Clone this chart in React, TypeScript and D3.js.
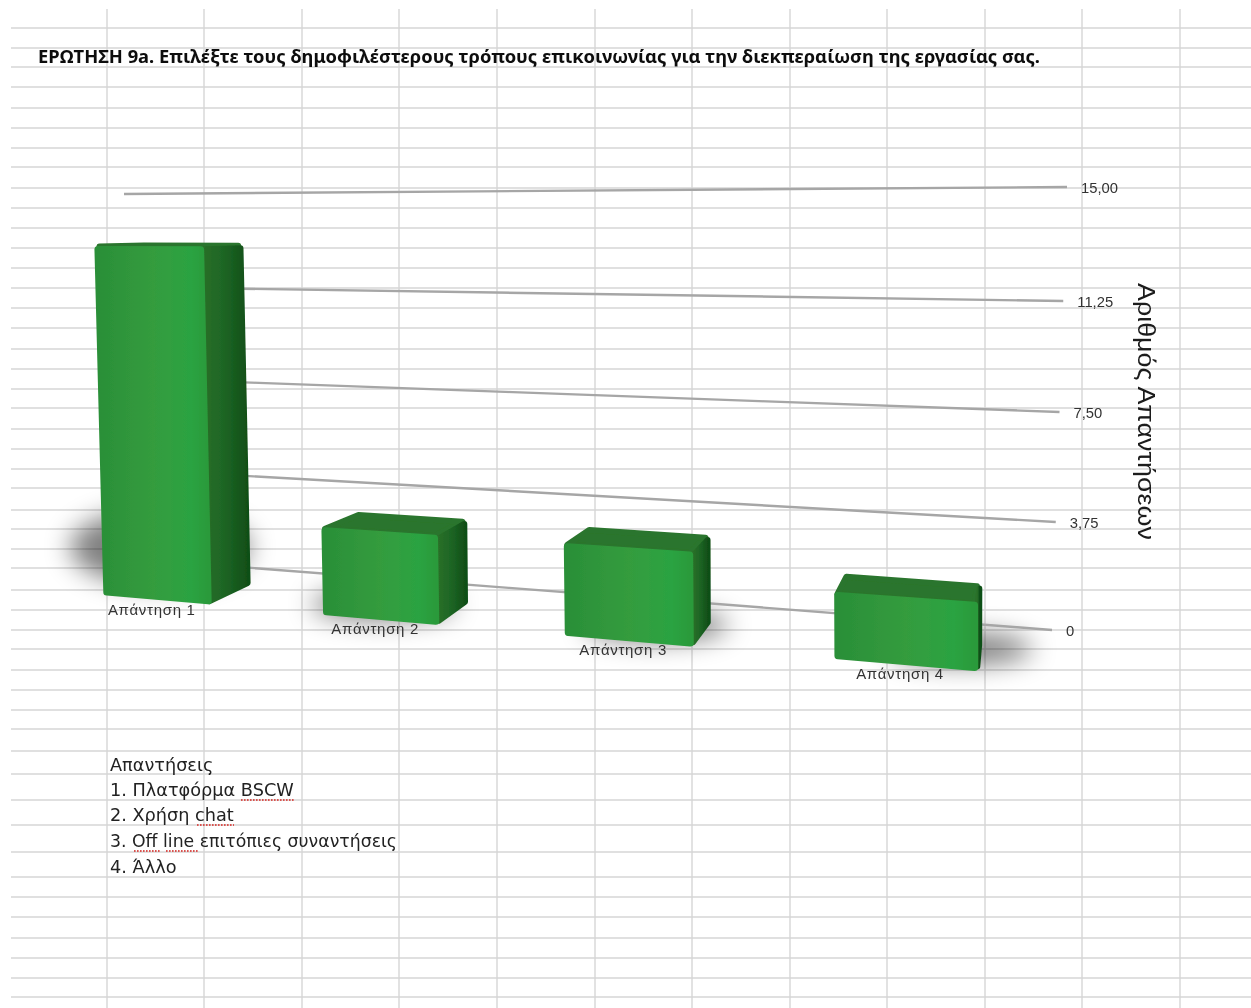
import React from "react";
import * as d3 from "d3";

const titleText = "ΕΡΩΤΗΣΗ 9a. Επιλέξτε τους δημοφιλέστερους τρόπους επικοινωνίας για την διεκπεραίωση της εργασίας σας.";
const categories = ["Απάντηση 1", "Απάντηση 2", "Απάντηση 3", "Απάντηση 4"];
const values = [13, 3, 3, 2];
const axisTicks = [0, 3.75, 7.5, 11.25, 15];
const axisTickLabels = ["0", "3,75", "7,50", "11,25", "15,00"];
const axisTitle = "Αριθμός Απαντήσεων";
const legendLines = ["Απαντήσεις", "1. Πλατφόρμα BSCW", "2. Χρήση chat", "3. Off line επιτόπιες συναντήσεις", "4. Άλλο"];
const legendRows = [765, 790, 815, 841, 867];
const sheetColumns = [107, 204, 302, 399, 497, 595, 692, 790, 887, 985, 1082, 1180];
const sheetRows = [28, 48, 67, 87, 108, 128, 148, 167, 188, 208, 228, 248, 268, 288, 308, 328, 349, 369, 389, 408, 429, 449, 469, 488, 510, 529, 549, 568, 590, 610, 630, 649, 670, 690, 710, 729, 751, 774, 800, 825, 852, 877, 897, 917, 938, 958, 978, 997];
// misspelling marks: [legend row, word]
const spellMarks: [number, string][] = [[1, "BSCW"], [2, "chat"], [3, "Off"], [3, "line"]];

const W = 1251, H = 1008;

// Wall of the chart: value axis at the two ends of the perspective lines
const wallLeftY = d3.scaleLinear().domain(axisTicks).range([558, 469, 378, 287, 194]);
const wallRightY = d3.scaleLinear().domain(axisTicks).range([630, 522, 412, 301, 187]);
const wallRightX = d3.scaleLinear().domain([0, 15]).range([1052, 1067]);
const wallLeftX = 124;

// Perspective of the bars: category slot u, value v, depth z (0 front, 1 back)
const slot = d3.scalePoint<string>().domain(categories).range([0, 3]);
const barSpan = 0.485;
const heightScale = d3.scaleLinear().domain([0, 1]).range([0, 26.8]);
const project = (u: number, v: number, z = 0): [number, number] => {
  const w = 1 - 0.0489 * u;
  const sx = (106 + 202.2 * u) / w - 0.69 * v * (1 - u / 3.2);
  const sy = (595 - 11.5 * u - heightScale(v)) / w;
  const s = 0.048 * z;
  return [sx + s * (1020 - sx), sy + s * (225 - sy)];
};
const poly = d3.line();
const inset = (pts: [number, number][], d: number): [number, number][] => {
  const cx = d3.mean(pts, (p) => p[0])!, cy = d3.mean(pts, (p) => p[1])!;
  return pts.map(([x, y]) => {
    const dx = cx - x, dy = cy - y, n = Math.hypot(dx, dy);
    return [x + (dx / n) * d, y + (dy / n) * d] as [number, number];
  });
};
const face = (pts: [number, number][], d: number) => poly(inset(pts, d))! + "Z";

const gridColor = "#d6d6d6";

export default function App() {
  return (
    <svg width={W} height={H} viewBox={`0 0 ${W} ${H}`} style={{ position: "absolute", left: 0, top: 0, background: "#fff" }}>
      <defs>
        <filter id="soft" x="-5%" y="-5%" width="110%" height="110%"><feGaussianBlur stdDeviation="0.4" /></filter>
        <filter id="shadow" x="-60%" y="-100%" width="220%" height="300%"><feGaussianBlur stdDeviation="13" /></filter>
        <linearGradient id="front" x1="0" x2="1" y1="0" y2="0">
          <stop offset="0" stopColor="#2a8f38" />
          <stop offset="0.5" stopColor="#349c3e" />
          <stop offset="0.85" stopColor="#2ba342" />
          <stop offset="1" stopColor="#2a9a3a" />
        </linearGradient>
        <linearGradient id="side" x1="0" x2="1" y1="0" y2="0">
          <stop offset="0" stopColor="#2a7029" />
          <stop offset="0.5" stopColor="#1d6524" />
          <stop offset="1" stopColor="#114f18" />
        </linearGradient>
      </defs>

      <g stroke={gridColor} strokeWidth={1.4} filter="url(#soft)">
        {sheetRows.map((y) => <line key={y} x1={11} x2={W} y1={y} y2={y} />)}
        {sheetColumns.map((x) => <line key={x} x1={x} x2={x} y1={9} y2={H} />)}
      </g>

      <g fill="#000" opacity={0.5} filter="url(#shadow)">
        {categories.map((c, i) => {
          const u = slot(c)!;
          const [mx, my] = project(u + barSpan / 2, 0);
          const tall = values[i] > 5;
          const lean = tall ? 3 : (mx - 350) * 0.1;
          return <ellipse key={c} cx={mx + lean} cy={my - (tall ? 52 : 14)} rx={tall ? 90 : 72} ry={tall ? 38 : 16} />;
        })}
      </g>

      <g stroke="#a6a6a6" strokeWidth={2.4} fill="none" filter="url(#soft)">
        {axisTicks.map((t) => (
          <line key={t} x1={wallLeftX} y1={wallLeftY(t)} x2={wallRightX(t)} y2={wallRightY(t)} />
        ))}
      </g>

      <g filter="url(#soft)" strokeLinejoin="round">
        {categories.map((c, i) => {
          const u0 = slot(c)!, u1 = u0 + barSpan, v = values[i];
          const fb0 = project(u0, 0), fb1 = project(u1, 0), ft0 = project(u0, v), ft1 = project(u1, v);
          const bb1 = project(u1, 0, 1), bt0 = project(u0, v, 1), bt1 = project(u1, v, 1);
          return (
            <g key={c}>
              <path d={face([ft0, ft1, bt1, bt0], 2.5)} fill="#2b752d" stroke="#2b752d" strokeWidth={6} />
              <path d={face([ft1, fb1, bb1, bt1], 2.5)} fill="url(#side)" stroke="url(#side)" strokeWidth={6} />
              <path d={face([ft0, ft1, fb1, fb0], 3)} fill="url(#front)" stroke="url(#front)" strokeWidth={7} />
            </g>
          );
        })}
      </g>

      <g filter="url(#soft)">
        <text x={38} y={63} fontFamily="'Noto Sans', sans-serif" fontWeight={700} fontSize={18} fill="#111" textLength={1002} lengthAdjust="spacingAndGlyphs">{titleText}</text>

        {categories.map((c) => {
          const [mx, my] = project(slot(c)! + barSpan / 2, 0);
          return <text key={c} x={mx - 49} y={my + 16} fontFamily="'Liberation Sans', sans-serif" fontSize={15} fill="#333" textLength={87} lengthAdjust="spacing">{c}</text>;
        })}

        {axisTicks.map((t, i) => (
          <text key={t} x={wallRightX(t) + 14} y={wallRightY(t) + 6} fontFamily="'Liberation Sans', sans-serif" fontSize={14.8} fill="#333">{axisTickLabels[i]}</text>
        ))}

        <text transform="translate(1138,283) rotate(90)" fontFamily="'Liberation Sans', sans-serif" fontSize={23} fill="#1a1a1a" textLength={257} lengthAdjust="spacingAndGlyphs">{axisTitle}</text>

        {legendLines.map((l, i) => (
          <text key={l} x={110} y={legendRows[i] + 6} fontFamily="'DejaVu Sans', sans-serif" fontSize={17.7} fill="#222" textLength={i === 3 ? 287 : undefined} lengthAdjust="spacingAndGlyphs">{l}</text>
        ))}
      </g>

      <g stroke="#d9534f" strokeWidth={1.8} strokeDasharray="1.6 1.4" filter="url(#soft)">
        {spellMarks.map(([row, word]) => {
          const spans: Record<string, [number, number]> = { BSCW: [241, 295], chat: [197, 234], Off: [134, 161], line: [166, 198] };
          const [a, b] = spans[word];
          return <line key={word} x1={a} x2={b} y1={legendRows[row] + 10} y2={legendRows[row] + 10} />;
        })}
      </g>
    </svg>
  );
}
